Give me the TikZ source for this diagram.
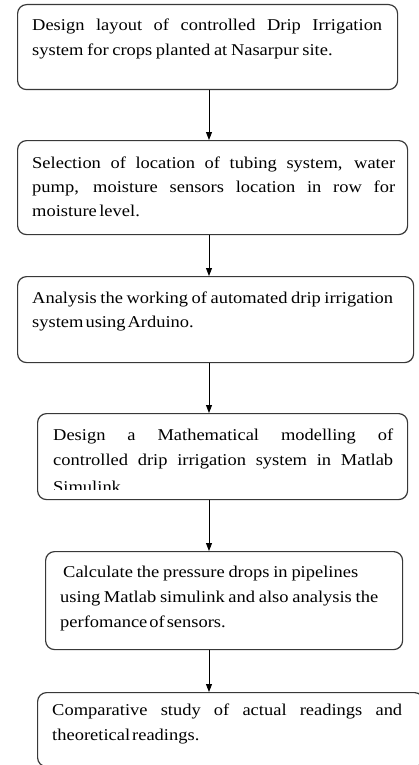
\documentclass[tikz,border=0pt]{standalone}
\usepackage{fontspec}
\setmainfont[FakeStretch=1.12]{Liberation Serif}
\usetikzlibrary{arrows.meta}

% a justified text line of fixed width, spaces share the leftover room
\newcommand{\flowjust}[2]{\hbox to #1{\spaceskip=0.08em plus 1fill\relax #2}}
% a closing line at its natural width, with a chosen word space
\newcommand{\flowlast}[2]{\hbox{\spaceskip=#1\relax #2}}

\begin{document}
\begin{tikzpicture}[x=1pt,y=-1pt,
  stepbox/.style={draw=black!78, line width=1.2pt, rounded corners=9pt,
    inner sep=0pt, anchor=north west},
  steptext/.style={inner sep=0pt, anchor=base west, font=\fontsize{16.5}{24.5}\selectfont},
  flowarrow/.style={line width=0.9pt, black, -{Triangle[length=8pt,width=6pt]}}]
\useasboundingbox (0,0) rectangle (419,765);
\clip (0,0) rectangle (419,765);

% boxes
\node[stepbox, minimum width=380pt, minimum height=85pt] (b1) at (17,4) {};
\node[stepbox, minimum width=390pt, minimum height=94pt] (b2) at (17,140) {};
\node[stepbox, minimum width=396pt, minimum height=86pt] (b3) at (17,276) {};
\node[stepbox, minimum width=370pt, minimum height=86pt] (b4) at (37,413) {};
\node[stepbox, minimum width=357pt, minimum height=98pt] (b5) at (45,551) {};
\node[stepbox, minimum width=386pt, minimum height=74pt] (b6) at (37,692) {};

% texts
\node[steptext] (t1) at (32,31) {\vtop{\baselineskip=24.7pt
  \flowjust{350pt}{Design layout of controlled Drip Irrigation}
  \flowlast{0.22em}{system for crops planted at Nasarpur site.}}};

\node[steptext] (t2) at (32,168) {\vtop{\baselineskip=24pt
  \flowjust{363pt}{Selection of location of tubing system, water}
  \flowjust{363pt}{pump, moisture sensors location in row for}
  \flowlast{0.15em}{moisture level.}}};

\node[steptext] (t3) at (32,303) {\vtop{\baselineskip=24pt
  \flowjust{361pt}{Analysis the working of automated drip irrigation}
  \flowlast{0.12em}{system using Arduino.}}};

\begin{scope}
  \clip (37,413) rectangle (407,489);
  \node[steptext] (t4) at (53,440) {\vtop{\baselineskip=25pt
    \flowjust{340pt}{Design a Mathematical modelling of}
    \flowjust{340pt}{controlled drip irrigation system in Matlab}
    \vskip2pt
    \flowlast{0.2em}{Simulink}}};
\end{scope}

\node[steptext] (t5) at (63,577) {\vtop{\baselineskip=25pt
  \flowjust{295pt}{Calculate the pressure drops in pipelines}
  \moveleft3pt\flowjust{318pt}{using Matlab simulink and also analysis the}
  \moveleft3pt\flowlast{0.12em}{perfomance of sensors.}}};

\node[steptext] (t6) at (52,715) {\vtop{\baselineskip=25pt
  \flowjust{350pt}{Comparative study of actual readings and}
  \flowlast{0.12em}{theoretical readings.}}};

% connectors along one vertical axis
\coordinate (axis) at (209,0);
\draw[flowarrow] (axis |- b1.south) -- (axis |- b2.north);
\draw[flowarrow] (axis |- b2.south) -- (axis |- b3.north);
\draw[flowarrow] (axis |- b3.south) -- (axis |- b4.north);
\draw[flowarrow] (axis |- b4.south) -- (axis |- b5.north);
\draw[flowarrow] (axis |- b5.south) -- (axis |- b6.north);
\end{tikzpicture}
\end{document}
